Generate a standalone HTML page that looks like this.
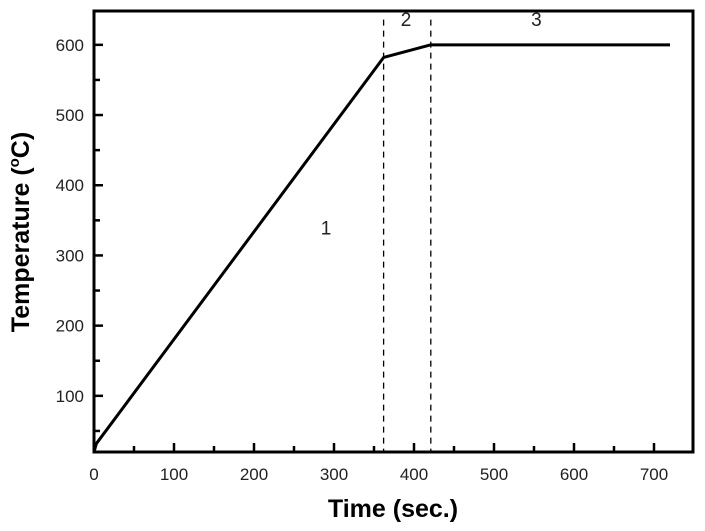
<!DOCTYPE html>
<html><head><meta charset="utf-8"><style>
body{margin:0;background:#fff;font-family:"Liberation Sans",Arial,sans-serif}
svg{display:block}
</style></head><body>
<svg id="chart" width="705" height="531" xmlns="http://www.w3.org/2000/svg"></svg>
<script>
const times=[0,3,362,421,720];
const temps=[20,32,582,600,600];
const xTicks=[0,100,200,300,400,500,600,700];
const yTicks=[100,200,300,400,500,600];
const stageBounds=[362,421];
const stageLabels=["1","2","3"];
const stageLabelPos=[[290,330],[390,627],[553,627]];
const NS="http://www.w3.org/2000/svg";
const svg=document.getElementById('chart');
const L=94,R=693,T=11,B=452;
const x=v=>L+(v)*0.8;
const y=v=>B-(v-20)*0.702;
function el(t,a){const e=document.createElementNS(NS,t);for(const k in a)e.setAttribute(k,a[k]);svg.appendChild(e);return e;}
let f=el('rect',{x:L,y:T,width:R-L,height:B-T,fill:'none',stroke:'#000','stroke-width':3});


for(let v=0;v<=700;v+=50){const maj=v%100===0;const t=el('line',{x1:x(v),x2:x(v),y1:B,y2:B-(maj?9:6),stroke:'#000','stroke-width':2.5});

}
for(let v=50;v<=600;v+=50){const maj=v%100===0;const t=el('line',{x1:L,x2:L+(maj?9:6),y1:y(v),y2:y(v),stroke:'#000','stroke-width':2.5});

}
xTicks.forEach(v=>{const t=el('text',{x:x(v),y:B+28,'text-anchor':'middle','font-size':17,fill:'#222'});t.textContent=v;

});
yTicks.forEach(v=>{const t=el('text',{x:L-10,y:y(v)+6,'text-anchor':'end','font-size':17,fill:'#222'});t.textContent=v;

});
stageBounds.forEach(v=>{const d=el('line',{x1:x(v),x2:x(v),y1:y(636),y2:B,stroke:'#000','stroke-width':1.3,'stroke-dasharray':'6,5'});

});
const p=el('polyline',{points:times.map((t,i)=>x(t)+','+y(temps[i])).join(' '),fill:'none',stroke:'#000','stroke-width':3,'stroke-linejoin':'round'});


stageLabels.forEach((s,i)=>{const t=el('text',{x:x(stageLabelPos[i][0]),y:y(stageLabelPos[i][1]),'text-anchor':'middle','font-size':19,fill:'#222'});t.textContent=s;

});
const xt=el('text',{x:393,y:517,'text-anchor':'middle','font-size':25,'font-weight':'bold'});xt.textContent='Time (sec.)';


const yt=el('text',{x:0,y:0,'text-anchor':'middle','font-size':25,'font-weight':'bold',transform:'translate(29,232) rotate(-90)'});
yt.innerHTML='Temperature (<tspan font-size="15" dy="-10">o</tspan><tspan dy="10">C)</tspan>';


</script>
</body></html>
